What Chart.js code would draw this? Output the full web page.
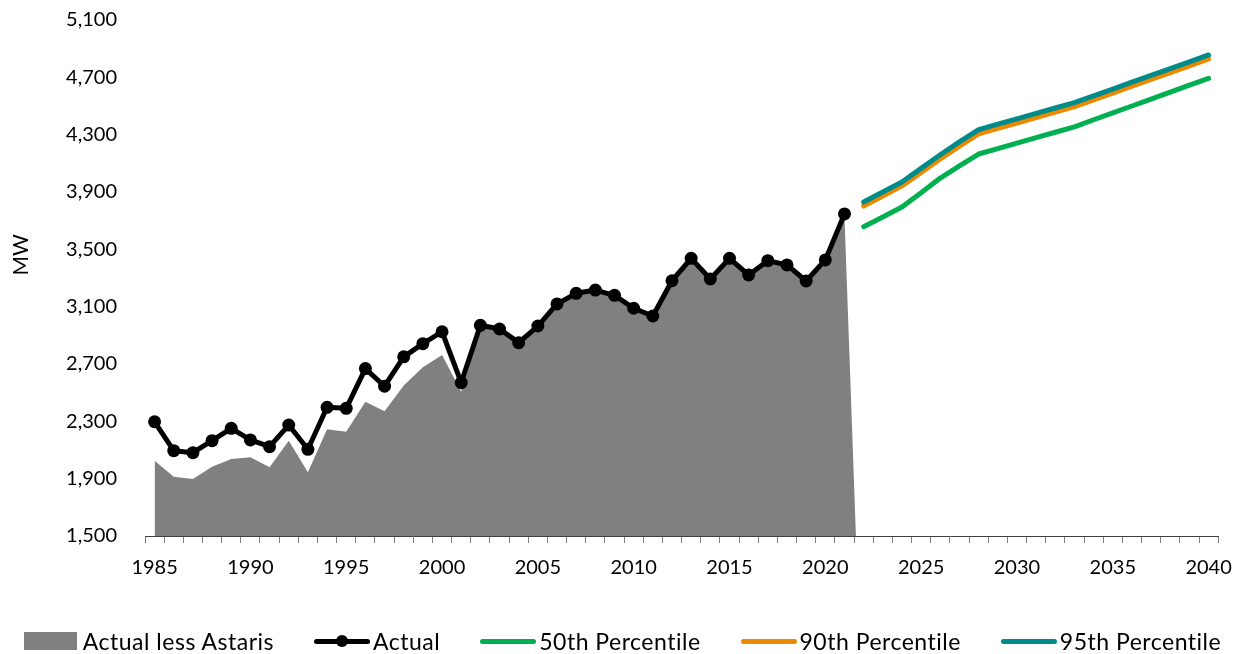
<!DOCTYPE html>
<html>
<head>
<meta charset="utf-8">
<script src="https://cdn.jsdelivr.net/npm/chart.js@4.4.0/dist/chart.umd.min.js"></script>
<style>
  body { margin: 0; background: #fff; }
  #wrap { position: relative; width: 1245px; height: 654px; font-family: Lato, sans-serif; }
  #grafica { position: absolute; left: 0; top: 0; }
  #leyenda { position: absolute; left: 0; top: 626px; width: 1245px; height: 30px;
    display: flex; justify-content: center; align-items: center; font-size: 23px;
    letter-spacing: 0.5px; color: #000; }
  .item { display: flex; align-items: center; margin-left: 40px; white-space: nowrap; }
  .item:first-child { margin-left: 0; }
  .sym { position: relative; width: 56px; height: 20px; margin-right: 3px; }
  .caja { width: 53px; height: 18px; background: #808080; margin-right: 6px; }
  .linea { position: absolute; left: 0; right: 0; top: 7.5px; height: 5px; border-radius: 3px; }
  .punto { position: absolute; left: 22px; top: 4px; width: 12px; height: 12px; border-radius: 50%; background: #000; }
</style>
</head>
<body>
<div id="wrap">
  <canvas id="grafica" width="1245" height="654"></canvas>
  <div id="leyenda"></div>
</div>
<script>
const anios = [
  1985, 1986, 1987, 1988, 1989, 1990, 1991, 1992, 1993, 1994,
  1995, 1996, 1997, 1998, 1999, 2000, 2001, 2002, 2003, 2004,
  2005, 2006, 2007, 2008, 2009, 2010, 2011, 2012, 2013, 2014,
  2015, 2016, 2017, 2018, 2019, 2020, 2021, 2022, 2023, 2024,
  2025, 2026, 2027, 2028, 2029, 2030, 2031, 2032, 2033, 2034,
  2035, 2036, 2037, 2038, 2039, 2040
];

// 1985-2021
const actual = [
  2297, 2095, 2081, 2165, 2251, 2170, 2123, 2274, 2105, 2398,
  2391, 2668, 2545, 2750, 2842, 2925, 2570, 2970, 2944, 2849,
  2965, 3119, 3193, 3216, 3179, 3089, 3035, 3281, 3437, 3293,
  3437, 3321, 3421, 3391, 3279, 3426, 3747
];

// 1985-2022 (cae a 0 en 2022)
const actualSinAstaris = [
  2025, 1914, 1898, 1984, 2037, 2049, 1979, 2165, 1944, 2244,
  2228, 2437, 2370, 2550, 2677, 2763, 2507, 2950, 2940, 2845,
  2960, 3115, 3190, 3212, 3175, 3085, 3030, 3275, 3430, 3290,
  3430, 3318, 3415, 3388, 3275, 3420, 3728, 0
];

// 2022-2040
const p50 = [
  3658, 3725, 3795, 3895, 3997, 4082, 4165, 4203, 4241, 4279,
  4317, 4355, 4404, 4452, 4500, 4548, 4597, 4645, 4693
];
const p90 = [
  3802, 3872, 3943, 4037, 4130, 4220, 4306, 4344, 4381, 4419,
  4457, 4495, 4543, 4590, 4638, 4685, 4733, 4780, 4828
];
const p95 = [
  3830, 3900, 3970, 4065, 4160, 4250, 4335, 4373, 4410, 4448,
  4486, 4523, 4571, 4618, 4666, 4713, 4761, 4808, 4856
];

const ejeY = { min: 1500, max: 5100, paso: 400 };

const colores = {
  gris: "#808080",
  negro: "#000000",
  verde: "#00B050",
  naranja: "#EB8A00",
  verdeAzul: "#008B8B",
};

// rellena con null para alinear con las categorias
const alinear = (valores, inicio) =>
  anios.map((a) => {
    const i = a - inicio;
    return i >= 0 && i < valores.length ? valores[i] : null;
  });

const lineaPronostico = (label, valores, color, orden) => ({
  type: "line",
  label: label,
  data: alinear(valores, 2022),
  borderColor: color,
  backgroundColor: color,
  borderWidth: 5,
  borderCapStyle: "round",
  borderJoinStyle: "round",
  pointRadius: 0,
  tension: 0,
  fill: false,
  order: orden,
});

// titulo "MW" un poco arriba del centro, como en el original
const tituloY = {
  id: "tituloY",
  afterDraw(chart) {
    const c = chart.ctx;
    c.save();
    c.translate(21, 255);
    c.rotate(-Math.PI / 2);
    c.font = "21px Lato";
    c.fillStyle = "#000";
    c.textAlign = "center";
    c.textBaseline = "middle";
    c.fillText("MW", 0, 0);
    c.restore();
  },
};

const cargarGrafica = () => {
  const ctx = document.getElementById("grafica").getContext("2d");

  new Chart(ctx, {
    type: "line",
    data: {
      labels: anios,
      datasets: [
        {
          label: "Actual less Astaris",
          data: alinear(actualSinAstaris, 1985),
          borderWidth: 0,
          borderColor: colores.gris,
          backgroundColor: colores.gris,
          pointRadius: 0,
          fill: "start",
          tension: 0,
          order: 5,
        },
        {
          label: "Actual",
          data: alinear(actual, 1985),
          borderColor: colores.negro,
          backgroundColor: colores.negro,
          borderWidth: 5,
          borderJoinStyle: "round",
          pointRadius: 6.5,
          pointBorderWidth: 0,
          pointBackgroundColor: colores.negro,
          tension: 0,
          fill: false,
          order: 4,
        },
        lineaPronostico("50th Percentile", p50, colores.verde, 3),
        lineaPronostico("90th Percentile", p90, colores.naranja, 2),
        lineaPronostico("95th Percentile", p95, colores.verdeAzul, 1),
      ],
    },
    options: {
      responsive: false,
      animation: false,
      layout: { padding: { left: 0, right: 23, top: 20, bottom: 78 } },
      plugins: {
        legend: { display: false },
        tooltip: { enabled: false },
      },
      scales: {
        x: {
          type: "category",
          offset: true,
          grid: {
            offset: true,
            drawOnChartArea: false,
            tickLength: 7,
            color: "#7f7f7f",
          },
          border: { display: true, color: "#404040", width: 1 },
          ticks: {
            autoSkip: false,
            maxRotation: 0,
            padding: 13,
            color: "#000",
            font: { family: "Lato", size: 20 },
            callback: function (v) {
              const a = Number(this.getLabelForValue(v));
              return a % 5 === 0 ? String(a) : "";
            },
          },
          afterFit: (escala) => { escala.height = 40; },
        },
        y: {
          min: ejeY.min,
          max: ejeY.max,
          grid: { display: false, drawTicks: true, tickLength: 25 },
          border: { display: false },
          ticks: {
            stepSize: ejeY.paso,
            padding: 3,
            color: "#000",
            font: { family: "Lato", size: 20 },
            callback: (v) => v.toLocaleString("en-US"),
          },
          afterFit: (escala) => { escala.width = 145; },
        },
      },
    },
    plugins: [tituloY],
  });

  // leyenda en HTML
  const items = [
    { texto: "Actual less Astaris", tipo: "caja", color: colores.gris },
    { texto: "Actual", tipo: "punto", color: colores.negro },
    { texto: "50th Percentile", tipo: "linea", color: colores.verde },
    { texto: "90th Percentile", tipo: "linea", color: colores.naranja },
    { texto: "95th Percentile", tipo: "linea", color: colores.verdeAzul },
  ];
  const leyenda = document.getElementById("leyenda");
  items.forEach((it) => {
    const div = document.createElement("div");
    div.className = "item";
    let simbolo;
    if (it.tipo === "caja") {
      simbolo = '<div class="caja"></div>';
    } else {
      simbolo = '<div class="sym"><div class="linea" style="background:' + it.color + '"></div>' +
        (it.tipo === "punto" ? '<div class="punto"></div>' : "") + "</div>";
    }
    div.innerHTML = simbolo + "<span>" + it.texto + "</span>";
    leyenda.appendChild(div);
  });
};

document.addEventListener("DOMContentLoaded", cargarGrafica);
</script>
</body>
</html>
